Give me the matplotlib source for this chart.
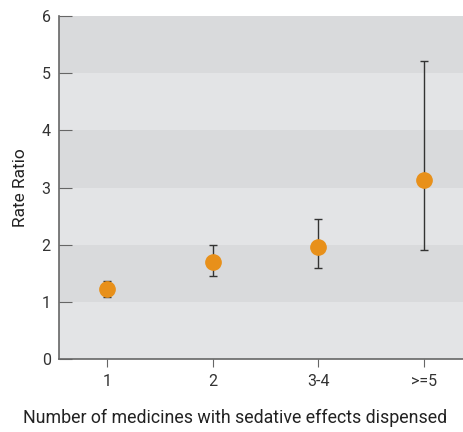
import matplotlib
matplotlib.use('Agg')
import matplotlib.pyplot as plt

# data
categories = ['1', '2', '3-4', '>=5']
rate_ratio = [1.22, 1.70, 1.96, 3.13]
ci_low = [1.09, 1.45, 1.59, 1.91]
ci_high = [1.37, 1.99, 2.45, 5.21]

plt.rcParams['font.family'] = ['Roboto', 'DejaVu Sans']

fig = plt.figure(figsize=(4.64, 4.32), dpi=100)
ax = fig.add_axes([59 / 464, 73 / 432, 405 / 464, 343 / 432])

# alternating horizontal bands
for i in range(6):
    ax.axhspan(i, i + 1, color='#d9dadc' if i % 2 else '#e3e4e6', lw=0, zorder=0)

x = list(range(len(categories)))
yerr = [[r - lo for r, lo in zip(rate_ratio, ci_low)],
        [hi - r for r, hi in zip(rate_ratio, ci_high)]]
ax.errorbar(x, rate_ratio, yerr=yerr, fmt='none', ecolor='#333333',
            elinewidth=1, capsize=3, capthick=1, zorder=2)
ax.plot(x, rate_ratio, 'o', color='#e8901a', markersize=11, zorder=3)

ax.set_xlim(-0.455, 3.38)
ax.set_ylim(0, 6)
ax.set_xticks(x)
ax.set_xticklabels(categories)
ax.set_yticks(range(7))

for s in ['top', 'right']:
    ax.spines[s].set_visible(False)
for s in ['left', 'bottom']:
    ax.spines[s].set_color('#666666')
    ax.spines[s].set_linewidth(1.2)

ax.tick_params(axis='y', direction='in', length=9, color='#666666',
               labelsize=11.5, labelcolor='#333333', pad=6)
ax.tick_params(axis='x', direction='out', length=6, color='#666666',
               labelsize=11.5, labelcolor='#333333', pad=5)

ax.set_ylabel('Rate Ratio', fontsize=12.5, color='#222222', labelpad=10)
fig.text(0.507, 0.012, 'Number of medicines with sedative effects dispensed',
         ha='center', va='bottom', fontsize=12.8, color='#222222')

plt.savefig('out.png', dpi=100)
